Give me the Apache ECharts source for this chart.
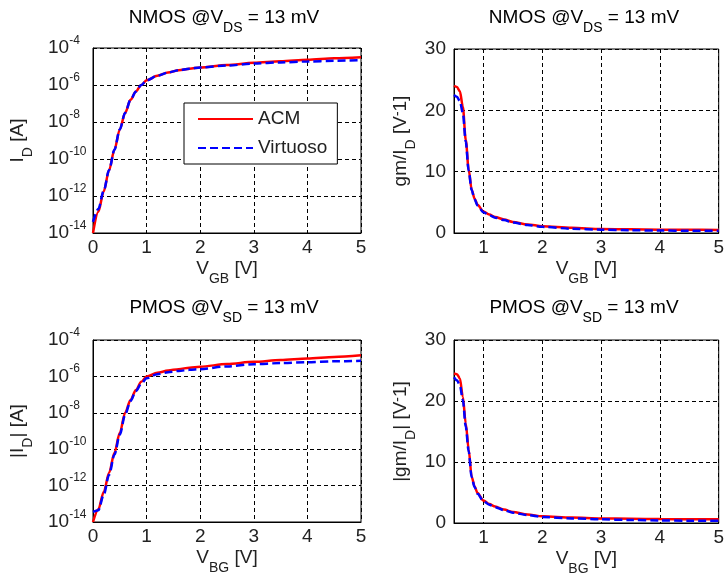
<!DOCTYPE html>
<html>
<head>
<meta charset="utf-8">
<script src="https://cdn.jsdelivr.net/npm/echarts@6/dist/echarts.min.js"></script>
<style>html,body{margin:0;padding:0;background:#fff}#c{width:727px;height:581px}</style>
</head>
<body>
<div id="c"></div>
<script>
// ---- data ----
const idX = [0,0.1,0.2,0.3,0.4,0.5,0.6,0.7,0.8,0.9,1.0,1.2,1.4,1.6,1.8,2.0,2.5,3.0,3.5,4.0,4.5,5.0];
const nmosIdACM = [1e-14,1.41e-13,1.78e-12,2.51e-11,3.16e-10,3.98e-9,3.16e-8,1.58e-7,4.47e-7,1.0e-6,1.78e-6,3.16e-6,4.68e-6,6.31e-6,7.59e-6,8.91e-6,1.20e-5,1.58e-5,1.91e-5,2.29e-5,2.75e-5,3.16e-5];
const nmosIdVirt = [3.98e-14,2.0e-13,1.9e-12,2.51e-11,3.16e-10,3.98e-9,3.16e-8,1.58e-7,4.47e-7,1.0e-6,1.78e-6,3.16e-6,4.68e-6,6.31e-6,7.59e-6,8.91e-6,1.12e-5,1.45e-5,1.66e-5,1.86e-5,2.04e-5,2.24e-5];
const pmosIdACM = [1e-14,5.01e-14,4.47e-13,5.01e-12,6.31e-11,7.94e-10,1e-8,5.01e-8,1.78e-7,5.01e-7,1.0e-6,1.58e-6,2.09e-6,2.51e-6,3.02e-6,3.39e-6,4.79e-6,6.31e-6,7.94e-6,9.55e-6,1.17e-5,1.45e-5];
const pmosIdVirt = [3.55e-14,4.47e-14,3.16e-13,3.98e-12,5.01e-11,6.31e-10,7.94e-9,4.47e-8,1.58e-7,3.98e-7,7.94e-7,1.32e-6,1.70e-6,2.0e-6,2.29e-6,2.51e-6,3.55e-6,4.68e-6,5.37e-6,6.03e-6,6.76e-6,7.24e-6];

const gmX = [0.5,0.55,0.6,0.65,0.7,0.75,0.8,0.85,0.9,1.0,1.1,1.2,1.35,1.5,1.75,2.0,2.5,3.0,3.5,4.0,4.5,5.0];
const nmosGmACM = [24.0,23.8,23.1,20.6,15.2,10.3,7.1,5.6,4.6,3.5,3.0,2.6,2.2,1.8,1.4,1.1,0.85,0.65,0.6,0.55,0.52,0.5];
const nmosGmVirt = [22.5,22.2,21.5,19.6,14.9,10.1,7.0,5.5,4.5,3.4,2.9,2.5,2.1,1.7,1.3,1.0,0.7,0.55,0.45,0.4,0.37,0.35];
const pmosGmACM = [24.5,24.4,23.7,20.7,16.3,12.0,7.6,6.0,4.9,3.7,3.1,2.7,2.2,1.8,1.4,1.1,0.9,0.75,0.7,0.65,0.62,0.6];
const pmosGmVirt = [23.9,23.4,22.6,20.2,15.8,11.7,7.5,5.9,4.8,3.6,3.0,2.6,2.1,1.7,1.3,1.0,0.75,0.6,0.5,0.42,0.38,0.35];

const seriesNames = ['ACM','Virtuoso'];
const titles = [
  '{a|NMOS @V}{sub|DS}{a| = 13 mV}',
  '{a|NMOS @V}{sub|DS}{a| = 13 mV}',
  '{a|PMOS @V}{sub|SD}{a| = 13 mV}',
  '{a|PMOS @V}{sub|SD}{a| = 13 mV}'
];
const xNames = ['{a|V}{sub|GB}{a| [V]}','{a|V}{sub|GB}{a| [V]}','{a|V}{sub|BG}{a| [V]}','{a|V}{sub|BG}{a| [V]}'];
const yNames = ['{a|I}{sub|D}{a| [A]}','{a|gm/I}{sub|D}{a| [V}{sup|-}{a|1]}','{a||I}{sub|D}{a|| [A]}','{a||gm/I}{sub|D}{a|| [V}{sup|-}{a|1]}'];

// ---- styling ----
const FONT = '"Liberation Sans", Arial, sans-serif';
const TXT = '#222';
const richSub = {
  a: {fontSize: 19, fontFamily: FONT, color: TXT, lineHeight: 20, verticalAlign: 'top'},
  sub: {fontSize: 14, fontFamily: FONT, color: TXT, lineHeight: 14, padding: [13,0,0,0], verticalAlign: 'top'},
  sup: {fontSize: 14, fontFamily: FONT, color: TXT, lineHeight: 14, padding: [0,0,0,0], verticalAlign: 'top'}
};
const richLog = {
  b: {fontSize: 19, fontFamily: FONT, color: TXT, lineHeight: 23, verticalAlign: 'bottom'},
  s: {fontSize: 12, fontFamily: FONT, color: TXT, lineHeight: 12, verticalAlign: 'top'}
};
const grids = [
  {left: 93, top: 48, width: 268, height: 185},
  {left: 454, top: 49, width: 266, height: 184},
  {left: 93, top: 340, width: 268, height: 182},
  {left: 454, top: 340, width: 266, height: 183}
];
const titlePos = [[224,8],[584,8],[224,298],[584,298]];
const gridDash = {color: '#000', type: [4,3], width: 1};

const xAxes = grids.map((g, i) => {
  const right = (i % 2 === 1);
  const ax = {
    type: 'value', gridIndex: i, min: right ? 0.5 : 0, max: 5,
    axisLine: {show: true, lineStyle: {color: '#000', width: 1}},
    axisTick: {show: false},
    splitLine: {show: true, lineStyle: gridDash},
    axisLabel: {fontSize: 19, fontFamily: FONT, color: TXT, margin: 5,
      formatter: v => (Math.abs(v - Math.round(v)) < 1e-9 ? String(Math.round(v)) : '')},
    name: xNames[i], nameLocation: 'middle', nameGap: 26,
    nameTextStyle: {rich: richSub}
  };
  if (right) { ax.splitNumber = 5; } else { ax.interval = 1; }
  return ax;
});

const yAxes = grids.map((g, i) => {
  const right = (i % 2 === 1);
  const base = {
    gridIndex: i,
    axisLine: {show: true, lineStyle: {color: '#000', width: 1}},
    axisTick: {show: false},
    splitLine: {show: true, lineStyle: gridDash},
    name: yNames[i], nameLocation: 'middle', nameRotate: 90,
    nameTextStyle: {rich: richSub}
  };
  if (right) {
    return Object.assign(base, {type: 'value', min: 0, max: 30, interval: 10, nameGap: 43,
      axisLabel: {fontSize: 19, fontFamily: FONT, color: TXT, margin: 8}});
  }
  return Object.assign(base, {type: 'log', logBase: 10, min: 1e-14, max: 1e-4, interval: 2, nameGap: 65,
    axisLabel: {margin: 45, align: 'left', padding: [0,0,4,0], rich: richLog,
      formatter: v => '{b|10}{s|' + Math.round(Math.log10(v)) + '}'}});
});

const dataSets = [
  [idX, nmosIdACM, nmosIdVirt],
  [gmX, nmosGmACM, nmosGmVirt],
  [idX, pmosIdACM, pmosIdVirt],
  [gmX, pmosGmACM, pmosGmVirt]
];
const series = [];
dataSets.forEach((d, i) => {
  const [xs, acm, virt] = d;
  series.push({
    name: seriesNames[0], type: 'line', xAxisIndex: i, yAxisIndex: i,
    data: xs.map((x, k) => [x, acm[k]]), symbol: 'none', smooth: 0.3, smoothMonotone: 'x',
    lineStyle: {color: '#ff0000', width: 2.5}, itemStyle: {color: '#ff0000'}, z: 3
  });
  series.push({
    name: seriesNames[1], type: 'line', xAxisIndex: i, yAxisIndex: i,
    data: xs.map((x, k) => [x, virt[k]]), symbol: 'none', smooth: 0.3, smoothMonotone: 'x',
    lineStyle: {color: '#0000ff', width: 2.5, type: [8,4]}, itemStyle: {color: '#0000ff'}, z: 4
  });
});

const chart = echarts.init(document.getElementById('c'), null, {renderer: 'canvas'});
chart.setOption({
  animation: false,
  backgroundColor: '#fff',
  grid: grids.map(g => Object.assign({show: true, borderColor: '#000', borderWidth: 1, backgroundColor: 'transparent', containLabel: false}, g)),
  xAxis: xAxes,
  yAxis: yAxes,
  legend: {
    data: seriesNames, orient: 'vertical', left: 184, top: 103,
    backgroundColor: '#fff', borderColor: '#000', borderWidth: 1,
    padding: [5, 10, 5, 13], itemWidth: 55, itemHeight: 14, itemGap: 7,
    itemStyle: {opacity: 0},
    textStyle: {fontSize: 19, fontFamily: FONT, color: TXT, lineHeight: 22},
    selectedMode: false, z: 10
  },
  graphic: titles.map((t, i) => ({
    type: 'text', x: titlePos[i][0], y: titlePos[i][1], z: 10,
    style: {text: t, rich: richSub, align: 'center', textAlign: 'center', verticalAlign: 'top', textVerticalAlign: 'top'}
  })),
  series: series
});
</script>
</body>
</html>
